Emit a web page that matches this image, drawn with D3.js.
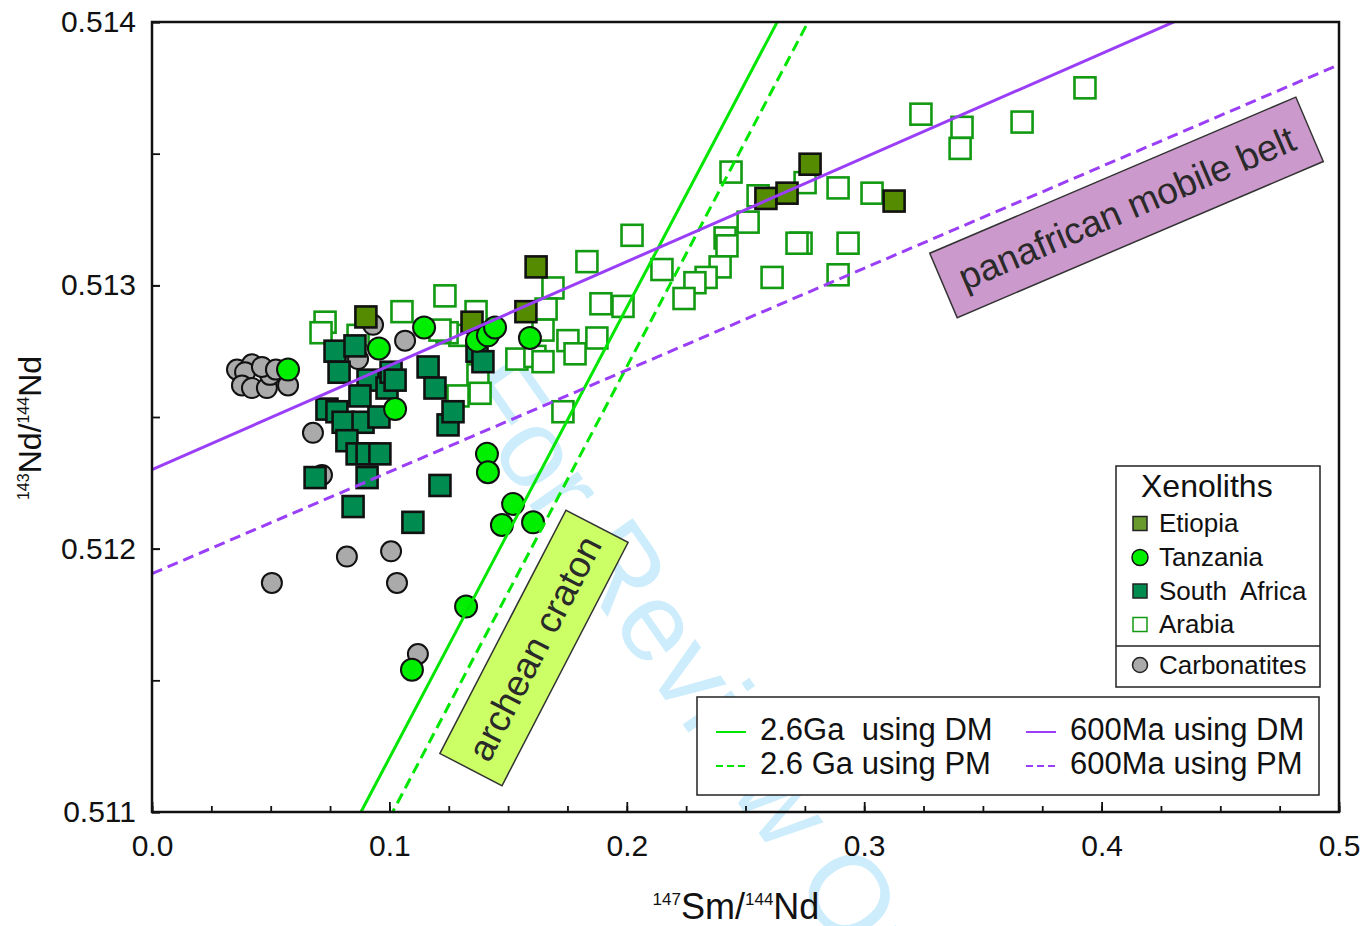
<!DOCTYPE html>
<html><head><meta charset="utf-8">
<script src="https://cdn.jsdelivr.net/npm/d3@7"></script>
<style>
html,body{margin:0;padding:0;background:#fff;}
svg{display:block;font-family:"Liberation Sans",Arial,Helvetica,sans-serif;}
.pre{white-space:pre;}
</style></head>
<body>
<svg id="c" width="1365" height="926"></svg>
<script>
// ---------------- data ----------------
const xMajorTicks = [0, 0.1, 0.2, 0.3, 0.4, 0.5];
const xMinorTicks = [0,0.025,0.05,0.075,0.1,0.125,0.15,0.175,0.2,0.225,0.25,0.275,0.3,0.325,0.35,0.375,0.4,0.425,0.45,0.475,0.5];
const yMajorTicks = [0.511, 0.512, 0.513, 0.514];
const yMinorTicks = [0.511,0.5115,0.512,0.5125,0.513,0.5135,0.514];

const arabia = [
[0.393,0.51375],[0.3239,0.51365],[0.3412,0.5136],[0.3404,0.51352],[0.3665,0.51362],
[0.289,0.51337],[0.3033,0.51335],[0.2751,0.51339],[0.2553,0.51334],[0.2439,0.51343],
[0.2511,0.51324],[0.2414,0.51318],[0.2422,0.51315],[0.2393,0.51307],[0.2334,0.51303],
[0.2287,0.51301],[0.2241,0.51295],[0.2148,0.51306],[0.2022,0.51319],[0.1832,0.51309],
[0.1689,0.51299],[0.1891,0.51293],[0.1984,0.51292],[0.166,0.51291],[0.1647,0.51283],
[0.1752,0.51279],[0.1874,0.5128],[0.1782,0.51274],[0.1537,0.51272],[0.1613,0.51273],
[0.1647,0.51271],[0.1365,0.5129],[0.1297,0.51281],[0.1243,0.51282],[0.1373,0.51266],
[0.1382,0.51259],[0.1289,0.51258],[0.1731,0.51252],[0.1234,0.51296],[0.1053,0.5129],
[0.0729,0.51286],[0.0712,0.51282],[0.0868,0.51281],[0.1213,0.51283],[0.2612,0.51303],
[0.289,0.51304],[0.2932,0.51316],[0.2734,0.51316],[0.2717,0.51316]
];
const carbonatites = [
[0.0358,0.51268],[0.0421,0.5127],[0.0392,0.51267],[0.0379,0.51262],[0.0421,0.51261],
[0.0484,0.51261],[0.0497,0.51266],[0.0573,0.51262],[0.0463,0.51269],[0.0522,0.51268],
[0.0678,0.51244],[0.0716,0.51228],[0.1066,0.51279],[0.0931,0.51285],[0.0868,0.51272],
[0.0821,0.51197],[0.1007,0.51199],[0.0505,0.51187],[0.1032,0.51187],[0.112,0.5116]
];
const southAfrica = [
[0.0771,0.51275],[0.0855,0.51277],[0.0788,0.51267],[0.091,0.51264],[0.099,0.51261],
[0.1007,0.51267],[0.0737,0.51253],[0.0779,0.51252],[0.0805,0.51248],[0.0889,0.51248],
[0.0876,0.51258],[0.0956,0.5125],[0.0821,0.51241],[0.0864,0.51236],[0.0906,0.51236],
[0.096,0.51236],[0.0906,0.51227],[0.0687,0.51227],[0.0847,0.51216],[0.1099,0.5121],
[0.1163,0.51269],[0.1192,0.51261],[0.1247,0.51247],[0.1213,0.51224],[0.1268,0.51252],
[0.1369,0.51275],[0.1394,0.51271],[0.1024,0.51264]
];
const etiopia = [
[0.0901,0.51288],[0.1348,0.51286],[0.1575,0.5129],[0.1618,0.51307],
[0.2586,0.51333],[0.2675,0.51335],[0.2772,0.51346],[0.3126,0.51332]
];
const tanzania = [
[0.0573,0.51268],[0.0956,0.51276],[0.1146,0.51284],[0.1024,0.51253],[0.1369,0.51279],
[0.1415,0.51281],[0.1445,0.51284],[0.1592,0.5128],[0.1411,0.51236],[0.1415,0.51229],
[0.1521,0.51217],[0.1474,0.51209],[0.1605,0.5121],[0.1323,0.51178],[0.1095,0.51154]
];
// isochron reference lines: y = intercept + slope * x
const isoLabels = ["2.6Ga  using DM", "2.6 Ga using PM", "600Ma using DM", "600Ma using PM"];
const isoIntercepts = [0.509494, 0.509262, 0.5123, 0.511905];
const isoSlopes = [0.01711, 0.017145, 0.00395, 0.003866];
const isoKinds = ["green", "green", "purple", "purple"];
const isoDashed = [false, true, false, true];

const legendSeries = ["Etiopia", "Tanzania", "South  Africa", "Arabia"];
const fieldLabels = ["panafrican mobile belt", "archean craton"];
const fieldCenters = [[0.4105, 0.513296], [0.1609, 0.511623]];

// ---------------- drawing ----------------
const COL = {
  purple: "#9a3ff7", green: "#00e600", tanz: "#00ee00", eti: "#558b00",
  sa: "#008c50", arab: "#129a12", carb: "#aaaaaa"
};
const svg = d3.select("#c");
const L = 152, R = 1339, T = 22, B = 812;
const x = d3.scaleLinear().domain([0, 0.5]).range([L, R]);
const y = d3.scaleLinear().domain([0.511, 0.514]).range([B, T]);

// watermark (clipped to the page)
svg.append("clipPath").attr("id", "page").append("rect")
  .attr("x", 0).attr("y", 0).attr("width", 1365).attr("height", 926);
svg.append("g").attr("clip-path", "url(#page)").append("text")
  .attr("transform", "translate(450,392) rotate(55)")
  .attr("font-size", 112).attr("fill", "#cdedfc")
  .text("For Review Only");

svg.append("clipPath").attr("id", "clip").append("rect")
  .attr("x", L).attr("y", T).attr("width", R - L).attr("height", B - T);

const plot = svg.append("g").attr("clip-path", "url(#clip)");

// field boxes
const fieldSizes = [[398, 70, -23.1, "#cc99cc"], [274, 70, -62.6, "#ccff66"]];
fieldLabels.forEach((lab, i) => {
  const [w, h, ang, fill] = fieldSizes[i];
  const g = svg.append("g")
    .attr("transform", `translate(${x(fieldCenters[i][0])},${y(fieldCenters[i][1])}) rotate(${ang})`);
  g.append("rect").attr("x", -w / 2).attr("y", -h / 2).attr("width", w).attr("height", h)
    .attr("fill", fill).attr("stroke", "#333").attr("stroke-width", 1.5);
  g.append("text").attr("text-anchor", "middle").attr("dy", "0.36em")
    .attr("font-size", 37).attr("fill", "#2a2a2a").text(lab);
});

// points
function squares(data, size, fill, stroke, sw) {
  plot.append("g").selectAll("rect").data(data).enter().append("rect")
    .attr("x", d => x(d[0]) - size / 2).attr("y", d => y(d[1]) - size / 2)
    .attr("width", size).attr("height", size)
    .attr("fill", fill).attr("stroke", stroke).attr("stroke-width", sw);
}
function circles(data, r, fill) {
  plot.append("g").selectAll("circle").data(data).enter().append("circle")
    .attr("cx", d => x(d[0])).attr("cy", d => y(d[1])).attr("r", r)
    .attr("fill", fill).attr("stroke", "#111").attr("stroke-width", 2);
}
squares(arabia, 21, "#fff", COL.arab, 2.6);
circles(carbonatites, 10, COL.carb);
squares(southAfrica, 21, COL.sa, "#111", 2.6);
squares(etiopia, 21, COL.eti, "#111", 2.6);
circles(tanzania, 11, COL.tanz);

// isochrons
isoLabels.forEach((lab, i) => {
  const xs = [0, 0.5];
  plot.append("line")
    .attr("x1", x(xs[0])).attr("y1", y(isoIntercepts[i] + isoSlopes[i] * xs[0]))
    .attr("x2", x(xs[1])).attr("y2", y(isoIntercepts[i] + isoSlopes[i] * xs[1]))
    .attr("stroke", isoKinds[i] === "green" ? COL.green : COL.purple)
    .attr("stroke-width", 3)
    .attr("stroke-dasharray", isoDashed[i] ? "11,6" : null);
});

// axes
const gx = svg.append("g").attr("transform", `translate(0,${B})`);
gx.append("g").call(d3.axisBottom(x).tickValues(xMinorTicks).tickSize(-6).tickFormat(""))
  .call(g => g.select(".domain").remove());
gx.append("g").call(d3.axisBottom(x).tickValues(xMajorTicks).tickSize(-10).tickPadding(23).tickFormat(d3.format(".1f")))
  .call(g => g.select(".domain").remove());
const gy = svg.append("g").attr("transform", `translate(${L},0)`);
gy.append("g").call(d3.axisLeft(y).tickValues(yMinorTicks).tickSize(-8).tickFormat(""))
  .call(g => g.select(".domain").remove());
gy.append("g").call(d3.axisLeft(y).tickValues(yMajorTicks).tickSize(-8).tickPadding(16).tickFormat(d3.format(".3f")))
  .call(g => g.select(".domain").remove());
svg.selectAll(".tick line").attr("stroke", "#111").attr("stroke-width", 1.8);
svg.selectAll(".tick text").attr("font-size", 30).attr("fill", "#111")
  .attr("font-family", '"Liberation Sans",Arial,sans-serif');

svg.append("rect").attr("x", L).attr("y", T).attr("width", R - L).attr("height", B - T)
  .attr("fill", "none").attr("stroke", "#111").attr("stroke-width", 2.5);

// axis titles
const xt = svg.append("text").attr("x", 736).attr("y", 919).attr("text-anchor", "middle")
  .attr("fill", "#111").attr("font-size", 36);
xt.append("tspan").attr("font-size", 17).attr("dy", -14).text("147");
xt.append("tspan").attr("dy", 14).text("Sm/");
xt.append("tspan").attr("font-size", 17).attr("dy", -14).text("144");
xt.append("tspan").attr("dy", 14).text("Nd");

const yt = svg.append("text").attr("transform", "translate(41,428) rotate(-90)")
  .attr("text-anchor", "middle").attr("fill", "#111").attr("font-size", 32);
yt.append("tspan").attr("font-size", 16).attr("dy", -12).text("143");
yt.append("tspan").attr("dy", 12).text("Nd/");
yt.append("tspan").attr("font-size", 16).attr("dy", -12).text("144");
yt.append("tspan").attr("dy", 12).text("Nd");

// legend 1
const lg = svg.append("g");
lg.append("rect").attr("x", 1116).attr("y", 466).attr("width", 204).attr("height", 221)
  .attr("fill", "#fff").attr("stroke", "#222").attr("stroke-width", 1.5);
lg.append("line").attr("x1", 1116).attr("x2", 1320).attr("y1", 646).attr("y2", 646)
  .attr("stroke", "#222").attr("stroke-width", 1.5);
lg.append("text").attr("x", 1141).attr("y", 497).attr("font-size", 32).attr("fill", "#111").text("Xenoliths");
const legRowsY = [532, 566, 599.5, 633];
const legFills = [COL.eti, COL.tanz, COL.sa, "#fff"];
legendSeries.forEach((s, i) => {
  const cy = legRowsY[i] - 8.5;
  if (i === 1) {
    lg.append("circle").attr("cx", 1140).attr("cy", cy).attr("r", 8)
      .attr("fill", COL.tanz).attr("stroke", "#111").attr("stroke-width", 1.5);
  } else {
    lg.append("rect").attr("x", 1133).attr("y", cy - 7).attr("width", 14).attr("height", 14)
      .attr("fill", i === 0 ? "#6a9a2e" : legFills[i])
      .attr("stroke", i === 3 ? COL.arab : "#222").attr("stroke-width", 1.5);
  }
  lg.append("text").attr("class", "pre").attr("x", 1159).attr("y", legRowsY[i])
    .attr("font-size", 26).attr("fill", "#111").text(s);
});
lg.append("circle").attr("cx", 1140).attr("cy", 665).attr("r", 7.5)
  .attr("fill", COL.carb).attr("stroke", "#222").attr("stroke-width", 1.5);
lg.append("text").attr("x", 1159).attr("y", 673.5).attr("font-size", 26).attr("fill", "#111").text("Carbonatites");

// legend 2
const lg2 = svg.append("g");
lg2.append("rect").attr("x", 697).attr("y", 697).attr("width", 622).attr("height", 98)
  .attr("fill", "#fff").attr("stroke", "#222").attr("stroke-width", 1.5);
const l2x = [716, 716, 1026, 1026];
const l2tx = [760, 760, 1070, 1070];
const l2y = [740, 774, 740, 774];
isoLabels.forEach((lab, i) => {
  lg2.append("line").attr("x1", l2x[i]).attr("x2", l2x[i] + 30)
    .attr("y1", l2y[i] - 8).attr("y2", l2y[i] - 8)
    .attr("stroke", isoKinds[i] === "green" ? COL.green : COL.purple).attr("stroke-width", 2)
    .attr("stroke-dasharray", isoDashed[i] ? "7,4" : null);
  lg2.append("text").attr("class", "pre").attr("x", l2tx[i]).attr("y", l2y[i])
    .attr("font-size", 31).attr("fill", "#111").text(lab);
});
</script>
</body></html>
